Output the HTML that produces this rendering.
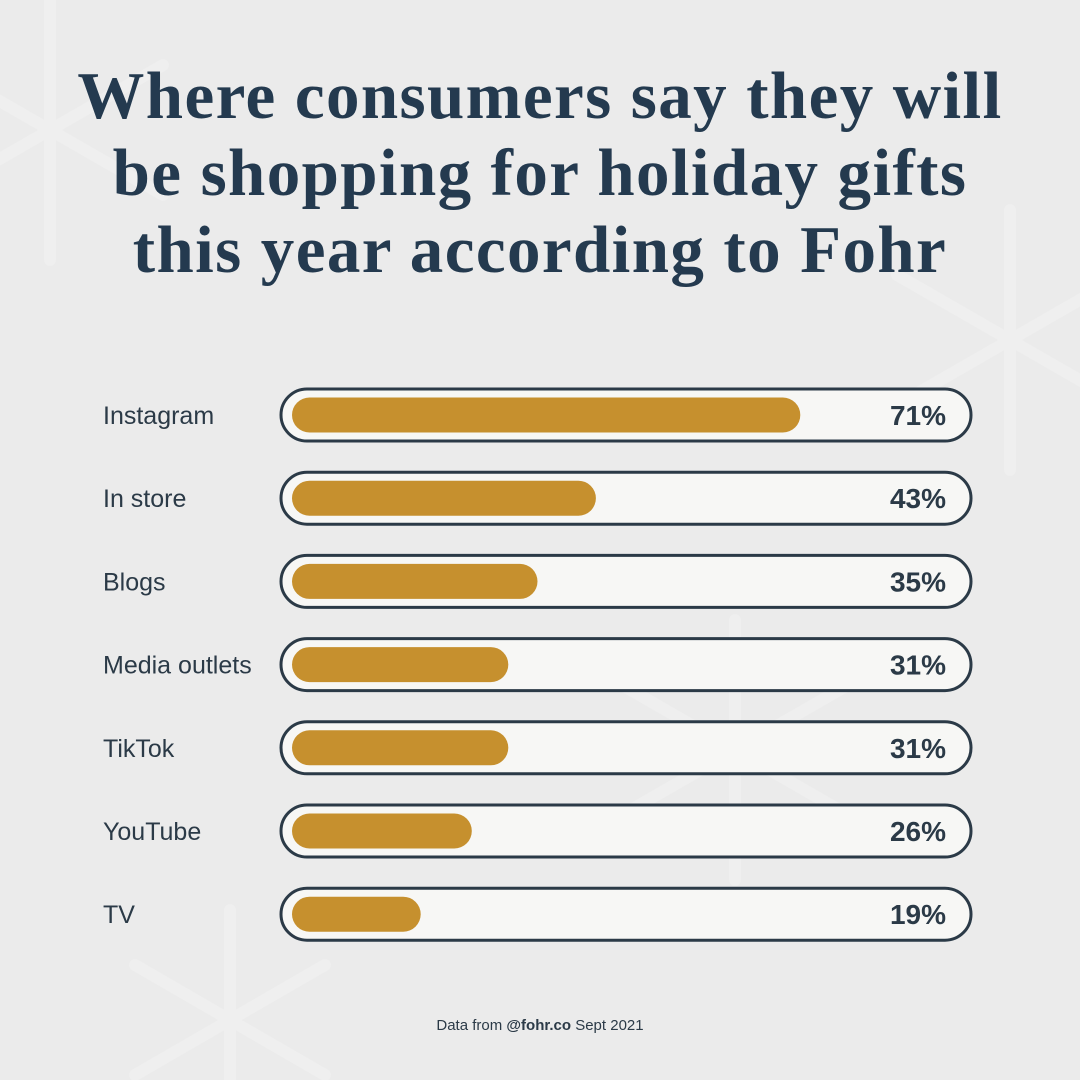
<!DOCTYPE html>
<html><head><meta charset="utf-8"><style>
body{margin:0;width:1080px;height:1080px;background:#ebebeb;overflow:hidden;position:relative;font-family:"Liberation Sans",sans-serif}
#title{position:absolute;left:0;top:58px;width:1080px;text-align:center;font-family:"Liberation Serif",serif;font-weight:bold;font-size:67px;line-height:77px;color:#243a4f;letter-spacing:1.4px;margin:0}
#footer{position:absolute;top:1017px;width:1080px;text-align:center;font-size:15px;color:#2b3a47}
svg{position:absolute;left:0;top:0}
</style></head><body>
<svg width="1080" height="1080">
<g stroke="#f2f2f2" stroke-width="12" stroke-linecap="round" fill="none" opacity="0.5">
<g transform="translate(50,130)"><path d="M0,-130V130M-113,-65L113,65M-113,65L113,-65"/></g>
<g transform="translate(1010,340)"><path d="M0,-130V130M-113,-65L113,65M-113,65L113,-65"/></g>
<g transform="translate(735,750)"><path d="M0,-130V130M-113,-65L113,65M-113,65L113,-65"/></g>
<g transform="translate(230,1020)"><path d="M0,-110V110M-95,-55L95,55M-95,55L95,-55"/></g>
</g></svg>
<h1 id="title">Where consumers say they will<br>be shopping for holiday gifts<br>this year according to Fohr</h1>
<svg id="chart" width="1080" height="1080"></svg>
<div id="footer">Data from <b>@fohr.co</b> Sept 2021</div>
<script>
const categories=["Instagram","In store","Blogs","Media outlets","TikTok","YouTube","TV"];
const values=[71,43,35,31,31,26,19];
const labels=["71%","43%","35%","31%","31%","26%","19%"];
const NS="http://www.w3.org/2000/svg";
const svg=document.getElementById('chart');
const y0=415,step=83.2;
function yPos(i){return y0+i*step;}
function xLen(v){return v*7.3-10;}
function mk(t,a){const e=document.createElementNS(NS,t);for(const k in a)e.setAttribute(k,a[k]);svg.appendChild(e);return e;}
categories.forEach((c,i)=>{
 const y=yPos(i);
 const lab=mk('text',{x:103,y:y+9,'font-size':25,fill:'#2b3a47','font-family':'Liberation Sans, sans-serif'});
 lab.textContent=c;
 
 
 const tr=mk('rect',{x:281,y:y-26,width:690,height:52,rx:26,fill:'#f7f7f5',stroke:'#2b3a47','stroke-width':3});
 
 
 const b=mk('rect',{x:292,y:y-17.5,width:xLen(values[i]),height:35,rx:17.5,fill:'#c6902e'});
 
 
 const v=mk('text',{x:946,y:y+10,'font-size':28,'font-weight':'bold',fill:'#2b3a47','text-anchor':'end','font-family':'Liberation Sans, sans-serif'});
 v.textContent=labels[i];
 
 
});
</script>
</body></html>
